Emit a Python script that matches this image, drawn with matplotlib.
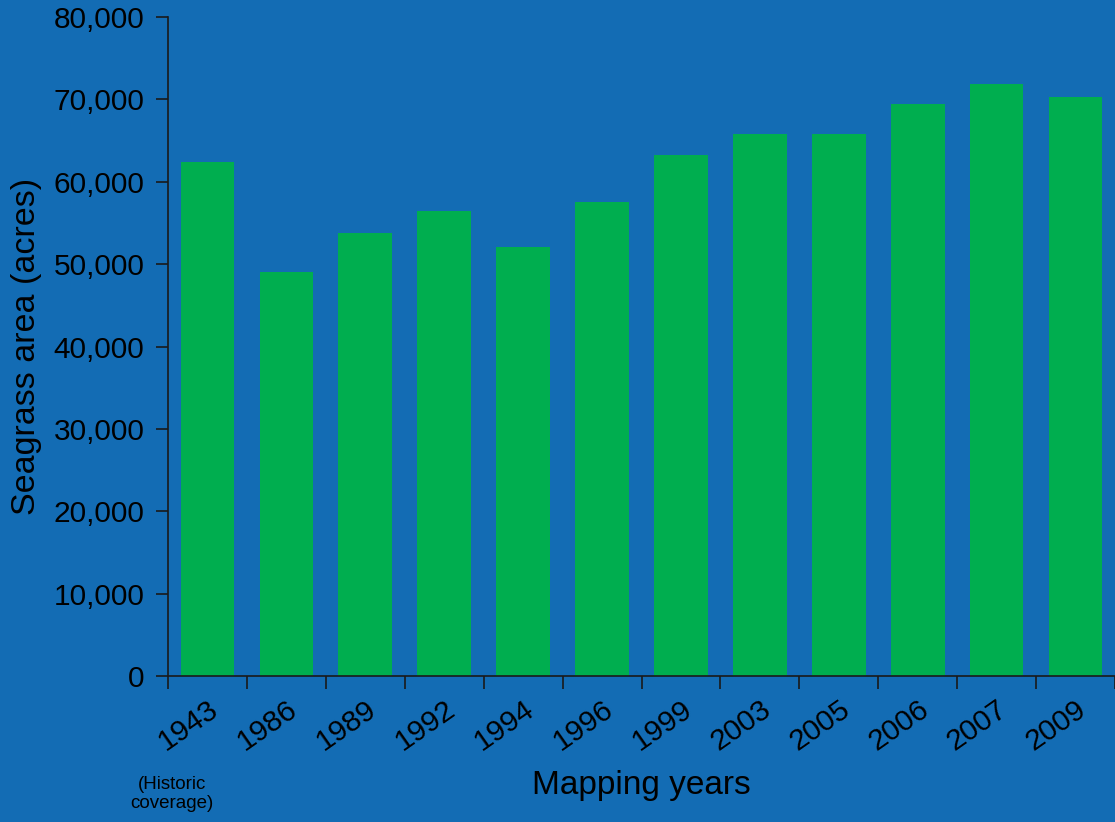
import matplotlib.pyplot as plt
import numpy as np

years = ['1943', '1986', '1989', '1992', '1994', '1996',
         '1999', '2003', '2005', '2006', '2007', '2009']
acres = [62400, 49000, 53800, 56400, 52100, 57600,
         63200, 65800, 65800, 69400, 71900, 70300]
yticks = [0, 10000, 20000, 30000, 40000, 50000, 60000, 70000, 80000]

bg = '#136cb4'
green = '#00ae4f'
plt.rcParams['font.family'] = ['Liberation Sans', 'DejaVu Sans']

fig = plt.figure(figsize=(11.15, 8.22), dpi=100, facecolor=bg)
ax = fig.add_axes([0.1507, 0.1776, 0.8493, 0.8017])
ax.set_facecolor(bg)

x = np.arange(len(years))
ax.bar(x, acres, width=0.68, color=green)

ax.set_xlim(-0.5, len(years) - 0.5)
ax.set_ylim(0, 80000)
ax.set_yticks(yticks)
ax.set_yticklabels([f'{v:,}' for v in yticks], fontsize=21.5)

# tick marks at category boundaries, labels at centres
ax.set_xticks(np.arange(-0.5, len(years), 1.0))
ax.set_xticklabels([])
ax.set_xticks(x, minor=True)
ax.set_xticklabels(years, minor=True, fontsize=21.5, rotation=35,
                   ha='right', rotation_mode='anchor')
ax.tick_params(axis='x', which='minor', length=0, pad=14)
ax.tick_params(axis='x', which='major', length=9, width=1.2, color='#1a1a1a')
ax.tick_params(axis='y', length=9, width=1.2, color='#1a1a1a', pad=8)

ax.spines['right'].set_visible(False)
ax.spines['top'].set_visible(False)
ax.spines['left'].set_color('#1a1a1a')
ax.spines['bottom'].set_color('#1a1a1a')
ax.spines['left'].set_linewidth(1.2)
ax.spines['bottom'].set_linewidth(1.2)

ax.set_ylabel('Seagrass area (acres)', fontsize=24.5, labelpad=8)
ax.set_xlabel('Mapping years', fontsize=24, labelpad=10)
fig.text(0.154, 0.034, '(Historic\ncoverage)', fontsize=13.5, ha='center',
         va='center', linespacing=1.15)

fig.savefig('out.png', dpi=100, facecolor=bg)
